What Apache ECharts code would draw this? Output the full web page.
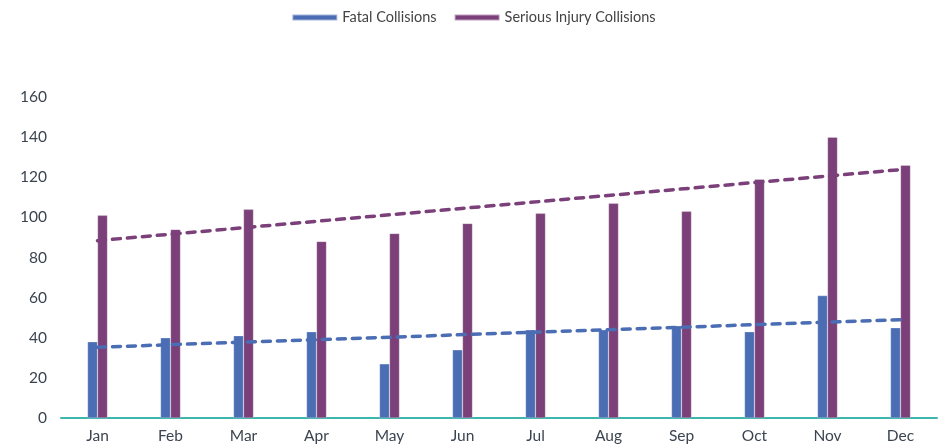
<!DOCTYPE html>
<html>
<head>
<meta charset="utf-8">
<script src="https://cdn.jsdelivr.net/npm/echarts@6/dist/echarts.min.js"></script>
<style>
  html, body { margin: 0; padding: 0; background: #fff; }
  #chart { width: 947px; height: 448px; }
</style>
</head>
<body>
<div id="chart"></div>
<script>
// 月份
var months = ['Jan', 'Feb', 'Mar', 'Apr', 'May', 'Jun', 'Jul', 'Aug', 'Sep', 'Oct', 'Nov', 'Dec'];
// 柱状数据
var fatal = [38, 40, 41, 43, 27, 34, 44, 44, 46, 43, 61, 45];
var serious = [101, 94, 104, 88, 92, 97, 102, 107, 103, 119, 140, 126];
// 趋势线（读自原图，只有首尾两点）
var fatalTrend = [35.3, null, null, null, null, null, null, null, null, null, null, 49.0];
var seriousTrend = [88.4, null, null, null, null, null, null, null, null, null, null, 123.8];
var yTicks = [0, 20, 40, 60, 80, 100, 120, 140, 160];

var BLUE = '#4a6db4';
var PURPLE = '#7b4079';
var TEXT = '#3b4450';

var chart = echarts.init(document.getElementById('chart'));
var option = {
    animation: false,
    textStyle: { fontFamily: 'Lato' },
    legend: {
        data: ['Fatal Collisions', 'Serious Injury Collisions'],
        top: 5,
        left: 'center',
        itemWidth: 45,
        itemHeight: 6,
        itemGap: 17,
        icon: 'rect',
        textStyle: { color: '#444', fontSize: 14.5, fontFamily: 'Lato' },
    },
    grid: { left: 61, right: 10, top: 97, bottom: 30 },
    xAxis: {
        type: 'category',
        data: months,
        axisLine: { lineStyle: { color: '#3fb6ad', width: 2 } },
        axisTick: { show: false },
        axisLabel: { color: TEXT, fontSize: 15.5, margin: 10 },
    },
    yAxis: {
        type: 'value',
        min: yTicks[0],
        max: yTicks[yTicks.length - 1],
        interval: 20,
        axisLine: { show: false },
        axisTick: { show: false },
        splitLine: { show: false },
        axisLabel: { color: TEXT, fontSize: 15.5, margin: 14 },
    },
    series: [
        {
            name: 'Fatal Collisions',
            type: 'bar',
            data: fatal,
            barWidth: 10,
            barGap: '0%',
            itemStyle: { color: BLUE, borderColor: 'rgba(255,255,255,0.5)', borderWidth: 0.5 },
        },
        {
            name: 'Serious Injury Collisions',
            type: 'bar',
            data: serious,
            barWidth: 10,
            barGap: '0%',
            itemStyle: { color: PURPLE, borderColor: 'rgba(255,255,255,0.5)', borderWidth: 0.5 },
        },
        {
            name: 'fatalTrend',
            type: 'line',
            data: fatalTrend,
            connectNulls: true,
            symbol: 'none',
            z: 5,
            lineStyle: { color: BLUE, width: 3.5, type: [8, 7], cap: 'round' },
        },
        {
            name: 'seriousTrend',
            type: 'line',
            data: seriousTrend,
            connectNulls: true,
            symbol: 'none',
            z: 5,
            lineStyle: { color: PURPLE, width: 3.5, type: [8, 7], cap: 'round' },
        },
    ],
};
chart.setOption(option);
</script>
</body>
</html>
